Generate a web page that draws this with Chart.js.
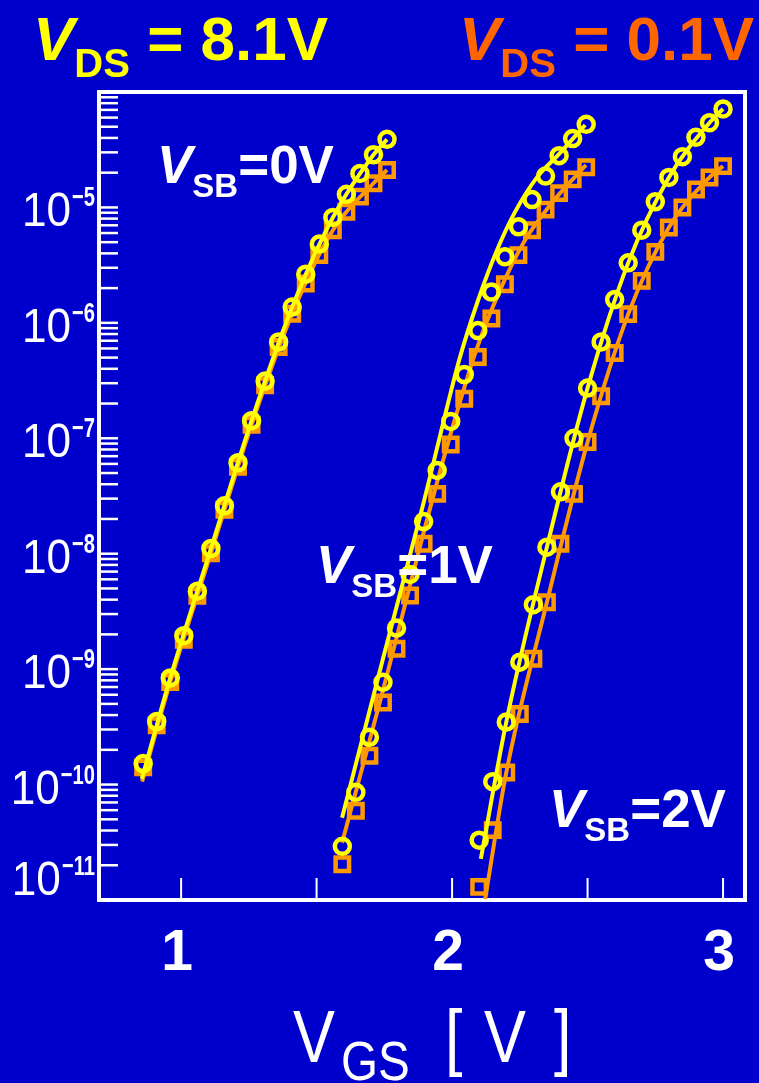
<!DOCTYPE html>
<html>
<head>
<meta charset="utf-8">
<script src="https://cdn.jsdelivr.net/npm/chart.js@4.4.0/dist/chart.umd.min.js"></script>
<style>
  html, body { margin: 0; padding: 0; background: #0000cc; }
  canvas { display: block; }
</style>
</head>
<body>
<canvas id="idvg" width="759" height="1083"></canvas>
<script>
// gate sweeps for the three body biases (V)
const vgsSb0 = [0.86, 0.91, 0.96, 1.01, 1.06, 1.11, 1.16, 1.21, 1.26, 1.31, 1.36, 1.41, 1.46, 1.51, 1.56, 1.61, 1.66, 1.71, 1.76];
const vgsSb1 = [1.595, 1.645, 1.695, 1.745, 1.795, 1.845, 1.895, 1.945, 1.995, 2.045, 2.095, 2.145, 2.195, 2.245, 2.295, 2.345, 2.395, 2.445, 2.495];
const vgsSb2 = [2.1, 2.15, 2.2, 2.25, 2.3, 2.35, 2.4, 2.45, 2.5, 2.55, 2.6, 2.65, 2.7, 2.75, 2.8, 2.85, 2.9, 2.95, 3.0];

// measured drain current, VDS = 8.1 V (circles)
const idHiSb0 = [1.52e-10, 3.52e-10, 8.4e-10, 1.95e-9, 4.74e-9, 1.11e-8, 2.6e-8, 6.14e-8, 1.42e-7, 3.13e-7, 6.83e-7, 1.37e-6, 2.64e-6, 4.81e-6, 8.19e-6, 1.30e-5, 1.97e-5, 2.86e-5, 3.89e-5];
const idHiSb1 = [2.92e-11, 8.57e-11, 2.57e-10, 7.69e-10, 2.27e-9, 6.61e-9, 1.90e-8, 5.27e-8, 1.40e-7, 3.57e-7, 8.57e-7, 1.85e-6, 3.73e-6, 6.79e-6, 1.17e-5, 1.87e-5, 2.81e-5, 3.95e-5, 5.25e-5];
const idHiSb2 = [3.30e-11, 1.06e-10, 3.48e-10, 1.15e-9, 3.62e-9, 1.14e-8, 3.44e-8, 1.00e-7, 2.72e-7, 6.83e-7, 1.59e-6, 3.31e-6, 6.35e-6, 1.12e-5, 1.82e-5, 2.75e-5, 4.05e-5, 5.42e-5, 7.13e-5];

// measured drain current, VDS = 0.1 V (squares)
const idLoSb0 = [1.41e-10, 3.26e-10, 7.74e-10, 1.80e-9, 4.32e-9, 1.01e-8, 2.40e-8, 5.67e-8, 1.31e-7, 2.88e-7, 6.18e-7, 1.20e-6, 2.19e-6, 3.86e-6, 6.35e-6, 9.16e-6, 1.24e-5, 1.62e-5, 2.11e-5];
const idLoSb1 = [2.04e-11, 5.93e-11, 1.78e-10, 5.15e-10, 1.50e-9, 4.34e-9, 1.22e-8, 3.30e-8, 8.85e-8, 2.20e-7, 5.06e-7, 1.09e-6, 2.16e-6, 3.86e-6, 6.35e-6, 9.57e-6, 1.33e-5, 1.75e-5, 2.23e-5];
const idLoSb2 = [1.30e-11, 4.03e-11, 1.27e-10, 4.09e-10, 1.23e-9, 3.80e-9, 1.22e-8, 3.30e-8, 9.27e-8, 2.31e-7, 5.48e-7, 1.19e-6, 2.31e-6, 4.12e-6, 6.71e-6, 1.00e-5, 1.43e-5, 1.82e-5, 2.28e-5];

// model curves (VGS, ID)
const modelHiSb0 = [[0.855, 1.12e-10], [0.96, 8.4e-10], [1.11, 1.11e-8], [1.26, 1.42e-7], [1.41, 1.37e-6], [1.56, 8.19e-6], [1.71, 2.86e-5], [1.76, 3.89e-5]];
const modelLoSb0 = [[0.856, 1.06e-10], [0.96, 7.74e-10], [1.11, 1.01e-8], [1.26, 1.31e-7], [1.41, 1.20e-6], [1.56, 6.35e-6], [1.71, 1.62e-5], [1.76, 2.11e-5]];
const modelHiSb1 = [[1.594, 5.15e-11], [1.745, 1.23e-9], [1.897, 2.89e-8], [1.956, 1.06e-7], [2.026, 4.74e-7], [2.096, 1.57e-6], [2.166, 4.27e-6], [2.232, 9.1e-6], [2.314, 1.83e-5], [2.391, 2.84e-5], [2.491, 5.18e-5]];
const modelLoSb1 = [[1.594, 3.13e-11], [1.745, 6.52e-10], [1.897, 1.59e-8], [1.993, 1.06e-7], [2.089, 5.78e-7], [2.177, 1.92e-6], [2.269, 5.2e-6], [2.362, 1.05e-5], [2.494, 2.33e-5]];
const modelHiSb2 = [[2.106, 2.27e-11], [2.2, 3.48e-10], [2.35, 1.14e-8], [2.5, 2.72e-7], [2.65, 3.31e-6], [2.8, 1.82e-5], [2.95, 5.42e-5], [3.0, 7.13e-5]];
const modelLoSb2 = [[2.122, 1.02e-11], [2.2, 1.27e-10], [2.35, 3.80e-9], [2.5, 9.27e-8], [2.65, 1.19e-6], [2.8, 6.71e-6], [2.95, 1.82e-5], [3.0, 2.28e-5]];

// axis ticks
const xTicks = [1, 1.5, 2, 2.5, 3];
const xTickLabels = ['1', '2', '3'];
const yDecades = [-11, -10, -9, -8, -7, -6, -5];
const yMinor = [1, 2, 3, 4, 5, 6, 7, 8, 9];

const BG = '#0000cc';
const YELLOW = '#ffff00';
const ORANGE = '#ff9900';
const ORANGE_TITLE = '#ff6600';
const FONT = '"Liberation Sans", Arial, sans-serif';

const zip = (xs, ys) => xs.map((v, i) => ({ x: v, y: ys[i] }));
const pairs = arr => arr.map(p => ({ x: p[0], y: p[1] }));

function markers(xs, ys, color, style) {
  return {
    data: zip(xs, ys),
    showLine: false,
    pointStyle: style,
    pointRadius: style === 'rect' ? 9.5 : 7.5,
    pointBorderWidth: 4.5,
    pointBorderColor: color,
    pointBackgroundColor: 'rgba(0,0,0,0)'
  };
}

function curve(pts, color) {
  return {
    data: pairs(pts),
    showLine: true,
    borderColor: color,
    borderWidth: 4,
    pointRadius: 0,
    cubicInterpolationMode: 'monotone'
  };
}

// draws a run of text pieces left to right: [text, font, dy, scaleX]
function textRun(ctx, x, base, color, parts) {
  ctx.fillStyle = color;
  ctx.textBaseline = 'alphabetic';
  ctx.textAlign = 'left';
  let cx = x;
  parts.forEach(([t, font, dy, sx]) => {
    sx = sx || 1;
    ctx.font = font;
    ctx.save();
    ctx.translate(cx, base + (dy || 0));
    ctx.scale(sx, 1);
    ctx.fillText(t, 0, 0);
    ctx.restore();
    cx += ctx.measureText(t).width * sx;
  });
}

const frame = {
  id: 'frame',
  beforeDraw(chart) {
    const ctx = chart.ctx;
    ctx.save();
    ctx.fillStyle = BG;
    ctx.fillRect(0, 0, chart.width, chart.height);
    ctx.restore();
  },
  beforeDatasetsDraw(chart) {
    const { ctx, chartArea: a, scales: { x, y } } = chart;
    ctx.save();
    ctx.strokeStyle = '#ffffff';
    ctx.lineWidth = 4;
    ctx.strokeRect(a.left, a.top, a.right - a.left, a.bottom - a.top);

    // log ticks on the left, pointing inwards
    ctx.lineWidth = 2.5;
    yDecades.forEach(e => yMinor.forEach(m => {
      const py = y.getPixelForValue(m * Math.pow(10, e));
      if (py < a.top + 3 || py > a.bottom - 1) return;
      ctx.beginPath();
      ctx.moveTo(a.left, py);
      ctx.lineTo(a.left + 19, py);
      ctx.stroke();
    }));

    // x ticks up from the bottom edge
    ctx.lineWidth = 2;
    xTicks.forEach(v => {
      const px = x.getPixelForValue(v);
      ctx.beginPath();
      ctx.moveTo(px, a.bottom);
      ctx.lineTo(px, a.bottom - 22);
      ctx.stroke();
    });
    ctx.restore();
  },
  afterDatasetsDraw(chart) {
    const { ctx, chartArea: a, scales: { x, y } } = chart;
    ctx.save();

    // x tick labels
    ctx.fillStyle = '#ffffff';
    ctx.font = 'bold 57px ' + FONT;
    ctx.textAlign = 'center';
    ctx.textBaseline = 'alphabetic';
    xTickLabels.forEach(t => {
      ctx.fillText(t, x.getPixelForValue(Number(t)) - 4, 970);
    });

    // y decade labels, 10 with a bold exponent
    yDecades.forEach(e => {
      const py = y.getPixelForValue(Math.pow(10, e));
      const base = Math.min(py + 19, 895);
      const exp = '\u2212' + Math.abs(e);
      ctx.font = 'bold 28px ' + FONT;
      const ew = ctx.measureText(exp).width * 0.72;
      ctx.font = '48px ' + FONT;
      const tw = ctx.measureText('10').width * 0.92;
      const right = 95;
      textRun(ctx, right - ew - tw - 1, base, '#ffffff', [['10', '48px ' + FONT, 0, 0.92]]);
      textRun(ctx, right - ew, base - 20, '#ffffff', [[exp, 'bold 28px ' + FONT, 0, 0.72]]);
    });

    // body bias labels
    const sbLabel = (x0, base, val) => textRun(ctx, x0, base, '#ffffff', [
      ['V', 'italic bold 53px ' + FONT, 0],
      ['SB', 'bold 33px ' + FONT, 14],
      ['=' + val, 'bold 53px ' + FONT, 0]
    ]);
    sbLabel(157, 183, '0V');
    sbLabel(316, 583, '1V');
    sbLabel(549, 827, '2V');

    // drain bias headers
    const dsTitle = (x0, color, val) => textRun(ctx, x0, 60, color, [
      ['V', 'italic bold 62px ' + FONT, 0],
      ['DS', 'bold 40px ' + FONT, 17],
      [' = ' + val, 'bold 62px ' + FONT, 0, 1.0]
    ]);
    dsTitle(33, YELLOW, '8.1V');
    dsTitle(459, ORANGE_TITLE, '0.1V');

    // x axis title
    const axisFont = '74px ' + FONT;
    textRun(ctx, 293, 1062, '#ffffff', [['V', axisFont, 0, 0.85]]);
    textRun(ctx, 341, 1080, '#ffffff', [['GS', '56px ' + FONT, 0, 0.85]]);
    textRun(ctx, 445, 1062, '#ffffff', [['[', axisFont, 0, 0.85]]);
    textRun(ctx, 484, 1062, '#ffffff', [['V', axisFont, 0, 0.85]]);
    textRun(ctx, 554, 1062, '#ffffff', [[']', axisFont, 0, 0.85]]);

    ctx.restore();
  }
};

const datasets = [
  markers(vgsSb0, idHiSb0, YELLOW, 'circle'),
  markers(vgsSb1, idHiSb1, YELLOW, 'circle'),
  markers(vgsSb2, idHiSb2, YELLOW, 'circle'),
  curve(modelHiSb0, YELLOW),
  curve(modelHiSb1, YELLOW),
  curve(modelHiSb2, YELLOW),
  markers(vgsSb0, idLoSb0, ORANGE, 'rect'),
  markers(vgsSb1, idLoSb1, ORANGE, 'rect'),
  markers(vgsSb2, idLoSb2, ORANGE, 'rect'),
  curve(modelLoSb0, ORANGE),
  curve(modelLoSb1, ORANGE),
  curve(modelLoSb2, ORANGE)
];

new Chart(document.getElementById('idvg'), {
  type: 'scatter',
  data: { datasets },
  options: {
    responsive: false,
    animation: false,
    devicePixelRatio: 1,
    layout: { padding: { left: 99, right: 14, top: 92, bottom: 183 } },
    plugins: {
      legend: { display: false },
      tooltip: { enabled: false }
    },
    scales: {
      x: { type: 'linear', min: 0.697, max: 3.081, display: false },
      y: { type: 'logarithmic', min: 1e-11, max: 1e-4, display: false }
    }
  },
  plugins: [frame]
});
</script>
</body>
</html>
